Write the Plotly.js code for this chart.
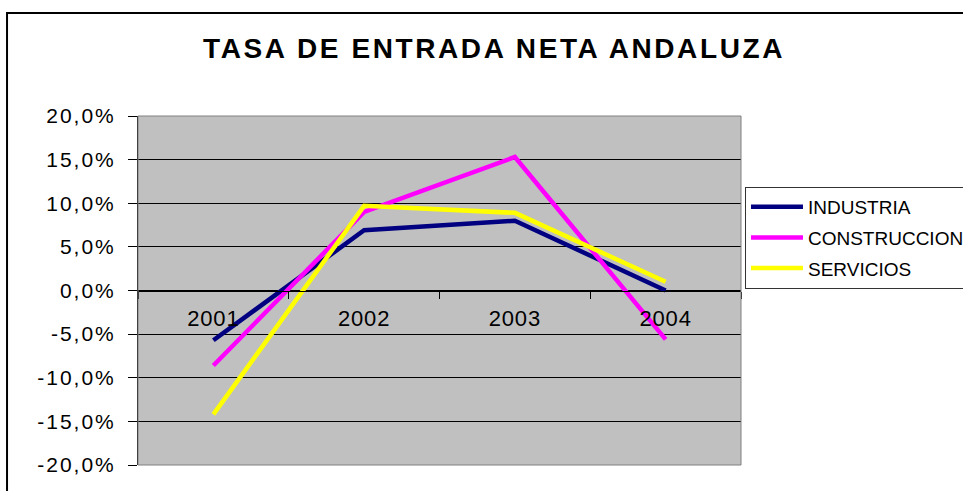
<!DOCTYPE html>
<html>
<head>
<meta charset="utf-8">
<script src="https://cdn.plot.ly/plotly-3.0.1.min.js"></script>
<style>
  html, body { margin: 0; padding: 0; background: #fff; }
  #chart { width: 963px; height: 491px; }
  .gtitle { letter-spacing: 2.6px; }
  .ytick text { letter-spacing: 2px; }
  .xtick text { letter-spacing: 0.8px; }
</style>
</head>
<body>
<div id="chart"></div>
<script>
var years = ['2001', '2002', '2003', '2004'];
var industria = [-5.7, 6.9, 8.0, 0.0];
var construccion = [-8.6, 9.0, 15.3, -5.6];
var servicios = [-14.2, 9.7, 8.9, 1.0];
var seriesNames = ['INDUSTRIA', 'CONSTRUCCION', 'SERVICIOS'];
var yTickVals = [-20, -15, -10, -5, 0, 5, 10, 15, 20];
var yTickLabels = ['-20,0%', '-15,0%', '-10,0%', '-5,0%', '0,0%', '5,0%', '10,0%', '15,0%', '20,0%'];
var titleText = 'TASA DE ENTRADA NETA ANDALUZA';

var colors = ['#000080', '#FF00FF', '#FFFF00'];
var values = [industria, construccion, servicios];

var traces = values.map(function (v, i) {
  return {
    x: years,
    y: v,
    name: seriesNames[i],
    type: 'scatter',
    mode: 'lines',
    line: { color: colors[i], width: 4.5 },
    hoverinfo: 'skip',
    legendgroup: 'g' + i
  };
});

var font = 'Liberation Sans, Arial, sans-serif';

var layout = {
  width: 963,
  height: 491,
  paper_bgcolor: '#ffffff',
  plot_bgcolor: '#C0C0C0',
  margin: { l: 138, r: 222, t: 116, b: 26, autoexpand: false },
  showlegend: true,
  title: {
    text: titleText,
    font: { family: font, size: 28, color: '#000', weight: 'bold' },
    x: 0.513, xref: 'container', xanchor: 'center',
    y: 1 - 48 / 491, yref: 'container', yanchor: 'middle'
  },
  xaxis: {
    type: 'category',
    range: [-0.5, 3.5],
    anchor: 'free',
    position: 0.5,
    showline: true,
    linecolor: '#000',
    linewidth: 1,
    showgrid: false,
    zeroline: false,
    ticks: 'outside',
    tickson: 'boundaries',
    ticklen: 7,
    tickcolor: '#000',
    tickwidth: 1,
    ticklabelstandoff: 8,
    tickfont: { family: font, size: 22, color: '#000' }
  },
  yaxis: {
    range: [-20, 20],
    tickmode: 'array',
    tickvals: yTickVals,
    ticktext: yTickLabels,
    showline: true,
    linecolor: '#000',
    linewidth: 1,
    showgrid: true,
    gridcolor: '#000',
    gridwidth: 1,
    zeroline: false,
    ticks: 'outside',
    ticklen: 9,
    tickcolor: '#000',
    tickwidth: 1,
    ticklabelstandoff: 8,
    tickfont: { family: font, size: 21, color: '#000' }
  },
  legend: {
    x: 1.0066, xanchor: 'left',
    y: 0.797, yanchor: 'top',
    bgcolor: '#ffffff',
    bordercolor: '#333333',
    borderwidth: 1,
    traceorder: 'grouped',
    tracegroupgap: 3,
    itemwidth: 52,
    font: { family: font, size: 19, color: '#000' }
  },
  shapes: [
    {
      type: 'rect', xref: 'paper', yref: 'paper',
      x0: 0, x1: 1, y0: 0, y1: 1,
      line: { color: '#808080', width: 1 },
      layer: 'above'
    },
    {
      type: 'rect', xref: 'paper', yref: 'paper',
      x0: -0.2172, x1: 2, y0: -0.5, y1: 1.2951,
      line: { color: '#000', width: 2 },
      layer: 'above'
    }
  ]
};

Plotly.newPlot('chart', traces, layout, { displayModeBar: false, staticPlot: true });
</script>
</body>
</html>
